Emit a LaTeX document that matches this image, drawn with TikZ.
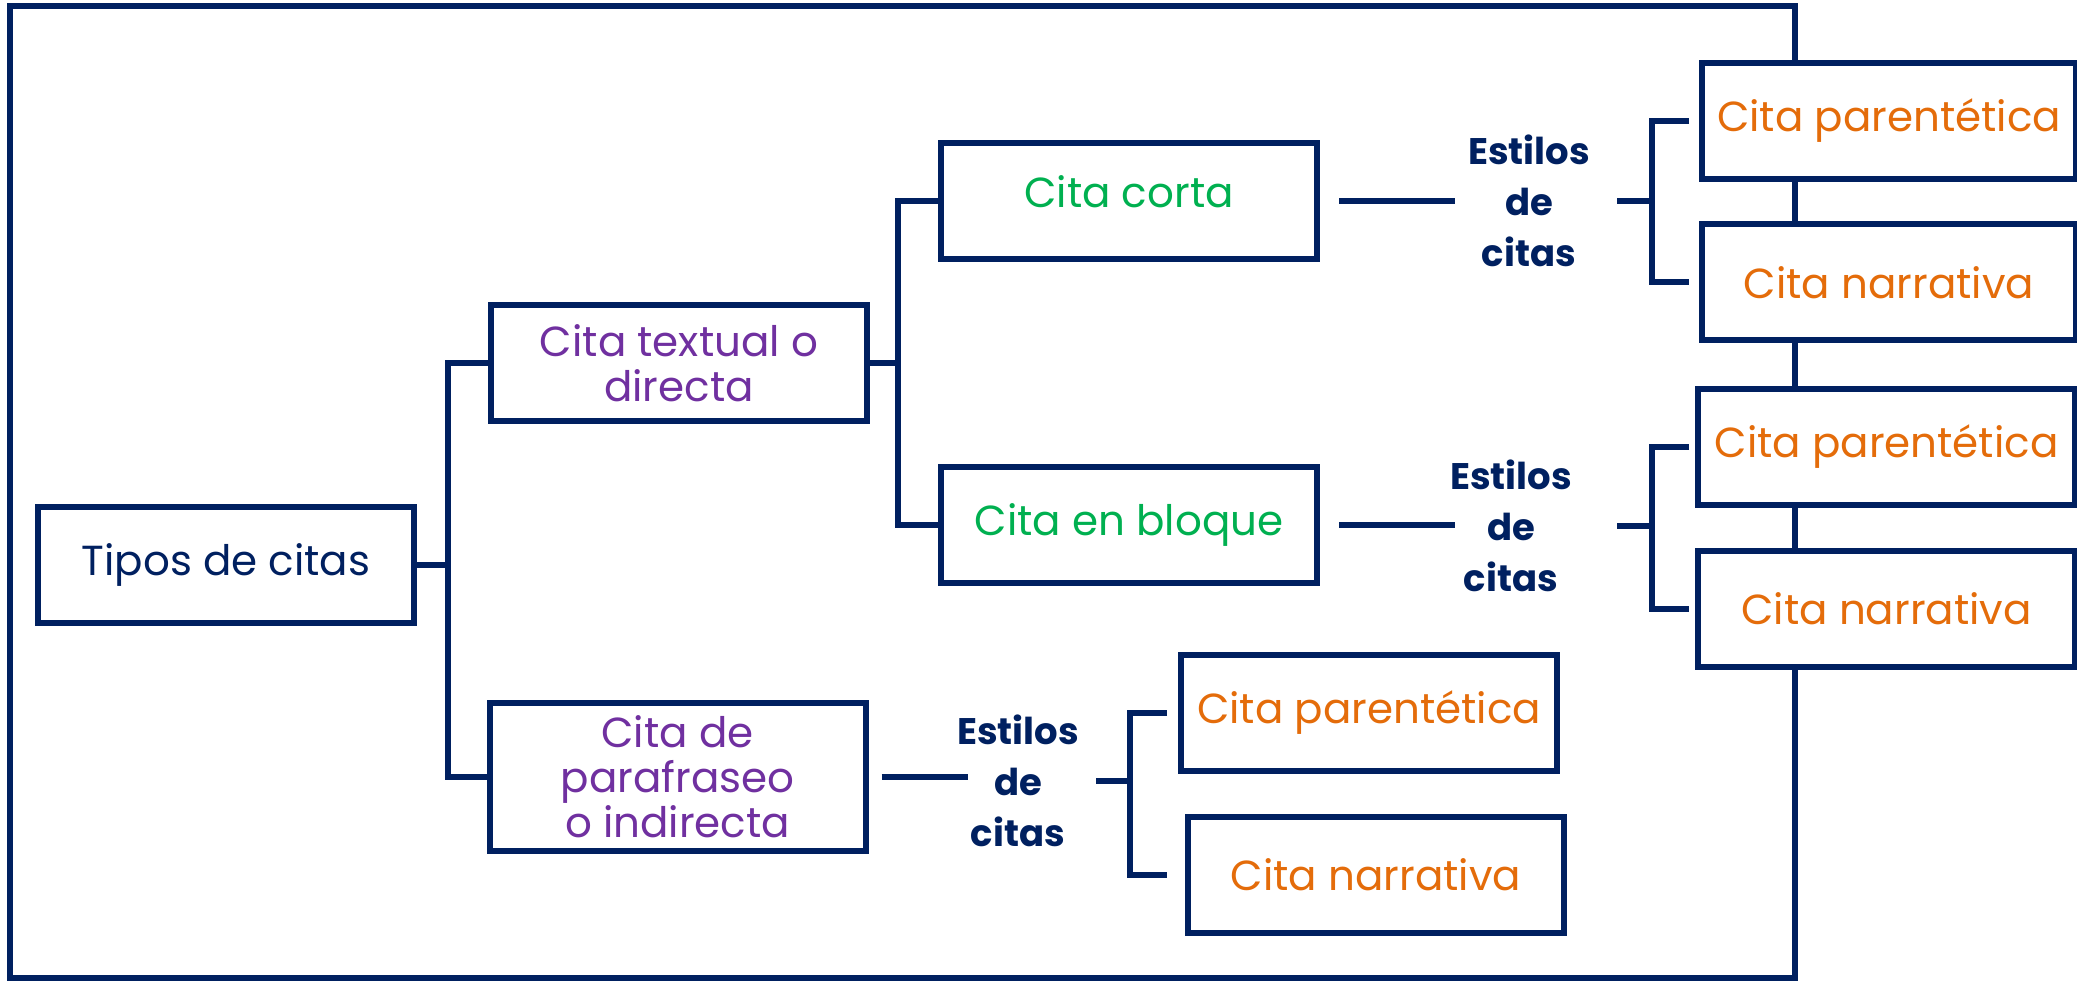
\documentclass[tikz,border=0pt]{standalone}
\usepackage{fontspec}
\setmainfont{Poppins}
\usepackage{xcolor}
\usetikzlibrary{positioning}
\definecolor{navy}{HTML}{002060}
\definecolor{lila}{HTML}{7030A0}
\definecolor{verde}{HTML}{00B050}
\definecolor{naranja}{HTML}{E46C0A}

\begin{document}
\begin{tikzpicture}[x=1pt,y=-1pt,
    caja/.style={draw=navy,line width=6pt,fill=white,minimum width=376pt,
      minimum height=116pt,inner sep=0pt,align=center,
      font=\fontsize{42}{45}\selectfont},
    estilo/.style={text=navy,align=center,inner sep=0pt,
      font=\bfseries\fontsize{37}{51}\selectfont},
    rama/.style={draw=navy,line width=6pt}]
    \useasboundingbox (0,0) rectangle (2077,981);
    % marco
    \draw[rama] (10,6) rectangle (1795,978);
    % cajas
    \node[caja,text=navy] (tipos) at (226,565) {Tipos de citas};
    \node[caja,text=lila] (textual) at (679,363) {Cita textual o\\directa};
    \node[caja,text=lila,minimum height=148pt] (parafraseo) at (677.5,777) {Cita de\\parafraseo\\o indirecta};
    \node[caja,text=verde,text depth=20pt] (corta) at (1129,201.5) {Cita corta};
    \node[caja,text=verde] (bloque) at (1129,524.5) {Cita en bloque};
    \node[caja,text=naranja,minimum width=374pt] (par1) at (1889,121) {Cita parentética};
    \node[caja,text=naranja,minimum width=374pt] (nar1) at (1889,282.5) {Cita narrativa};
    \node[caja,text=naranja,minimum width=377pt] (par2) at (1886.5,447) {Cita parentética};
    \node[caja,text=naranja,minimum width=377pt] (nar2) at (1886.5,609) {Cita narrativa};
    \node[caja,text=naranja] (par3) at (1369,713) {Cita parentética};
    \node[caja,text=naranja] (nar3) at (1376,874.5) {Cita narrativa};
    \node[estilo] (est1) at (1529,201) {Estilos\\de\\citas};
    \node[estilo] (est2) at (1511,526) {Estilos\\de\\citas};
    \node[estilo] (est3) at (1018,781) {Estilos\\de\\citas};
    % ramas
    \draw[rama] (textual.west) -- ++(-40,0) coordinate (j1) |- (parafraseo.west);
    \draw[rama] (tipos.east) -- (tipos.east -| j1);
    \draw[rama] (corta.west) -- ++(-40,0) coordinate (j2) |- (bloque.west);
    \draw[rama] (textual.east) -- (textual.east -| j2);
    \draw[rama] ([xshift=19pt]corta.east) -- ([xshift=-74pt]est1.center |- corta.east);
    \draw[rama] ([xshift=88pt]est1.center) -- ++(38,0);
    \draw[rama] ([xshift=-10pt]par1.west) -- ++(-37,0) |- ([xshift=-10pt]nar1.west);
    \draw[rama] ([xshift=19pt]bloque.east) -- ([xshift=-56pt]est2.center |- bloque.east);
    \draw[rama] ([xshift=106pt]est2.center) -- ++(38,0);
    \draw[rama] ([xshift=-6pt]par2.west) -- ++(-37,0) |- ([xshift=-6pt]nar2.west);
    \draw[rama] ([xshift=13pt]parafraseo.east) -- ([xshift=-50pt]est3.center |- parafraseo.east);
    \draw[rama] ([xshift=78pt]est3.center) -- ++(37,0);
    \draw[rama] ([xshift=-11pt]par3.west) -- ++(-37,0) |- ([xshift=-18pt]nar3.west);
\end{tikzpicture}
\end{document}
